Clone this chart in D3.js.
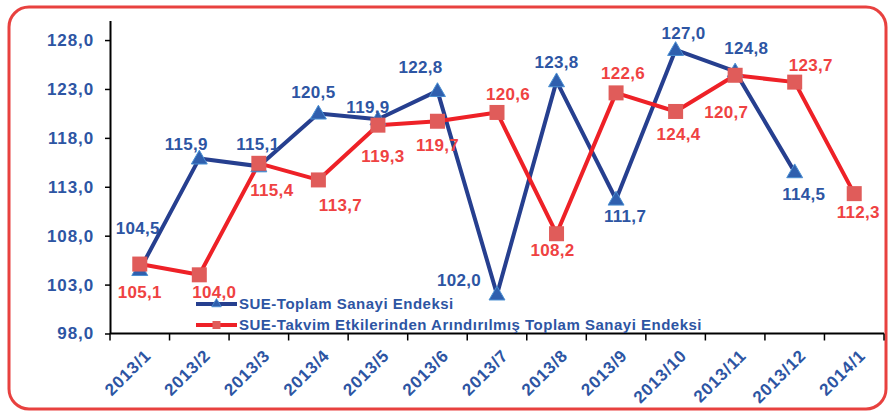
<!DOCTYPE html>
<html>
<head>
<meta charset="utf-8">
<script src="https://cdn.jsdelivr.net/npm/d3@7"></script>
<style>
  html, body { margin: 0; padding: 0; background: #fff; }
  svg text { font-family: "Liberation Sans", Arial, sans-serif; font-weight: bold; }
</style>
</head>
<body>
<div id="chart"></div>
<script>
const categories = ['2013/1', '2013/2', '2013/3', '2013/4', '2013/5', '2013/6', '2013/7',
                    '2013/8', '2013/9', '2013/10', '2013/11', '2013/12', '2014/1'];
const sueTotal = [104.5, 115.9, 115.1, 120.5, 119.9, 122.8, 102.0, 123.8, 111.7, 127.0, 124.8, 114.5, null];
const sueAdjusted = [105.1, 104.0, 115.4, 113.7, 119.3, 119.7, 120.6, 108.2, 122.6, 120.7, 124.4, 123.7, 112.3];
// labels as printed on the original (10 and 11 are swapped there)
const sueAdjustedLabels = ['105,1', '104,0', '115,4', '113,7', '119,3', '119,7', '120,6',
                           '108,2', '122,6', '124,4', '120,7', '123,7', '112,3'];
const yTicks = [98, 103, 108, 113, 118, 123, 128];
const seriesNames = ['SUE-Toplam Sanayi Endeksi',
                     'SUE-Takvim Etkilerinden Arındırılmış Toplam Sanayi Endeksi'];

// label placement around each point [dx, dy]
const blueOffsets = [[-2,-42],[-13,-14],[-1,-22],[-5,-21],[-10,-12],[-17,-24],
                     [-38,-14],[0,-19],[9,17],[8,-17],[11,-23],[9,22],[0,0]];
const redOffsets = [[0,28],[15,17],[13,27],[22,25],[5,31],[0,24],[11,-18],
                    [-4,16],[7,-20],[3,23],[-9,37],[16,-17],[4,18]];

const width = 891, height = 413;
const blueLine = '#263f8f', blueText = '#2d55a3', blueMarker = '#2f5fae';
const redLine = '#ee2127', redText = '#ef4242', redMarker = '#e05c5a';

const svg = d3.select('#chart').append('svg')
  .attr('width', width).attr('height', height);

svg.append('rect')
  .attr('x', 9).attr('y', 7).attr('width', 877).attr('height', 402)
  .attr('rx', 20).attr('ry', 20)
  .attr('fill', '#fff').attr('stroke', '#e8413f').attr('stroke-width', 3);

const x = d3.scaleBand().domain(categories).range([110, 884]).padding(0);
const y = d3.scaleLinear().domain([98, 130]).range([333.5, 20.5]);
const cx = d => x(d) + x.bandwidth() / 2;
const fmt = v => d3.format('.1f')(v).replace('.', ',');

// y axis
const yAxis = svg.append('g').attr('transform', 'translate(110,0)')
  .call(d3.axisLeft(y).tickValues(yTicks).tickSize(5).tickSizeOuter(0).tickFormat(fmt));
yAxis.select('.domain').attr('stroke', '#000').attr('stroke-width', 2);
yAxis.selectAll('.tick line').attr('stroke', '#000').attr('stroke-width', 1.5);
yAxis.selectAll('.tick text').attr('x', -16).attr('fill', blueText)
  .style('font-size', '17px').style('letter-spacing', '0.9px');

// x axis with ticks between categories
const xg = svg.append('g').attr('transform', `translate(0,${y(98)})`);
xg.append('line').attr('x1', 110).attr('x2', 884).attr('stroke', '#000').attr('stroke-width', 2);
const bounds = categories.map(c => x(c)).concat([x.range()[1]]);
xg.selectAll('line.tk').data(bounds).enter().append('line')
  .attr('class', 'tk')
  .attr('x1', d => d).attr('x2', d => d).attr('y1', 0).attr('y2', 7)
  .attr('stroke', '#000').attr('stroke-width', 1.5);
xg.selectAll('text').data(categories).enter().append('text')
  .attr('transform', d => `translate(${cx(d) + 8},${19}) rotate(-45)`)
  .attr('text-anchor', 'end').attr('dy', '0.35em')
  .attr('fill', blueText).style('font-size', '17px').style('letter-spacing', '0.8px')
  .text(d => d);

const line = d3.line()
  .defined(d => d.v != null)
  .x(d => cx(d.c)).y(d => y(d.v));

const blueData = categories.map((c, i) => ({c, v: sueTotal[i], i}));
const redData = categories.map((c, i) => ({c, v: sueAdjusted[i], i}));

svg.append('path').datum(blueData).attr('d', line)
  .attr('fill', 'none').attr('stroke', blueLine).attr('stroke-width', 4)
  .attr('stroke-linejoin', 'round');
svg.append('path').datum(redData).attr('d', line)
  .attr('fill', 'none').attr('stroke', redLine).attr('stroke-width', 4)
  .attr('stroke-linejoin', 'round');

const tri = d3.symbol().type(d3.symbolTriangle).size(110);
svg.selectAll('path.tri').data(blueData.filter(d => d.v != null)).enter().append('path')
  .attr('class', 'tri')
  .attr('transform', d => `translate(${cx(d.c)},${y(d.v) + 1})`)
  .attr('d', tri)
  .attr('fill', blueMarker).attr('stroke', '#4a8fd2').attr('stroke-width', 1);

svg.selectAll('rect.sq').data(redData).enter().append('rect')
  .attr('class', 'sq')
  .attr('x', d => cx(d.c) - 7.5).attr('y', d => y(d.v) - 7.5)
  .attr('width', 15).attr('height', 15)
  .attr('fill', redMarker);

// data labels
svg.selectAll('text.bl').data(blueData.filter(d => d.v != null)).enter().append('text')
  .attr('class', 'bl')
  .attr('x', d => cx(d.c) + blueOffsets[d.i][0])
  .attr('y', d => y(d.v) + blueOffsets[d.i][1])
  .attr('dy', '0.35em').attr('text-anchor', 'middle')
  .attr('fill', blueText).style('font-size', '17px').style('letter-spacing', '0.3px')
  .text(d => fmt(d.v));

svg.selectAll('text.rl').data(redData).enter().append('text')
  .attr('class', 'rl')
  .attr('x', d => cx(d.c) + redOffsets[d.i][0])
  .attr('y', d => y(d.v) + redOffsets[d.i][1])
  .attr('dy', '0.35em').attr('text-anchor', 'middle')
  .attr('fill', redText).style('font-size', '17px').style('letter-spacing', '0.3px')
  .text(d => sueAdjustedLabels[d.i]);

// legend
const legend = svg.append('g').attr('transform', 'translate(196,304)');
const legendItems = legend.selectAll('g').data(seriesNames).enter().append('g')
  .attr('transform', (d, i) => `translate(0,${i * 21})`);
legendItems.append('line')
  .attr('x1', 0).attr('x2', 41)
  .attr('stroke', (d, i) => i === 0 ? blueLine : redLine).attr('stroke-width', 4);
legendItems.each(function(d, i) {
  const g = d3.select(this);
  if (i === 0) {
    g.append('path').attr('transform', 'translate(20.5,0)')
      .attr('d', d3.symbol().type(d3.symbolTriangle).size(40))
      .attr('fill', blueMarker).attr('stroke', '#4a8fd2').attr('stroke-width', 0.8);
  } else {
    g.append('rect').attr('x', 16.5).attr('y', -4).attr('width', 8).attr('height', 8)
      .attr('fill', redMarker);
  }
});
legendItems.append('text')
  .attr('x', 43).attr('dy', '0.35em')
  .attr('fill', blueText).style('font-size', '15px').style('letter-spacing', '0.5px')
  .text(d => d);
</script>
</body>
</html>
